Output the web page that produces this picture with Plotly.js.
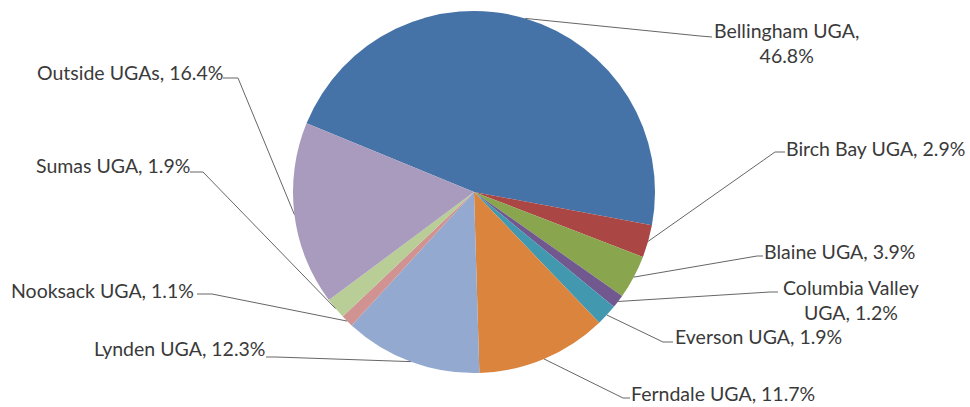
<!DOCTYPE html>
<html><head><meta charset="utf-8">
<script src="https://cdn.plot.ly/plotly-3.0.1.min.js"></script>
<style>html,body{margin:0;padding:0;background:#fff}#chart{width:970px;height:407px}</style>
</head><body><div id="chart"></div>
<script>
// ---- data ----
const categories = ["Bellingham UGA","Birch Bay UGA","Blaine UGA","Columbia Valley UGA","Everson UGA","Ferndale UGA","Lynden UGA","Nooksack UGA","Sumas UGA","Outside UGAs"];
const shares = [46.8, 2.9, 3.9, 1.2, 1.9, 11.7, 12.3, 1.1, 1.9, 16.4];
const colors = ["#4572A7","#AA4643","#89A54E","#71588F","#4198AF","#DB843D","#93A9CF","#D19392","#B9CD96","#A99BBD"];

// ---- layout (pixels) ----
const W = 970, H = 407;
const CX = 474, CY = 192, R = 181, ROT = -67.7;
// label placement: bend point, end point, text anchor
const labelPos = [
  {bend:[700,36], end:[712,37], tx:786, ty:43, xa:"center", brk:[", ", ",<br>"]},
  {bend:[775,152], end:[785,152], tx:785, ty:148, xa:"left"},
  {bend:[757,256], end:[763,256], tx:763, ty:251, xa:"left"},
  {bend:[770,292], end:[778,292], tx:851, ty:300, xa:"center", brk:["Valley ", "Valley<br>"]},
  {bend:[663,342], end:[673,342], tx:674, ty:336, xa:"left"},
  {bend:[623,398], end:[630,398], tx:630, ty:393, xa:"left"},
  {bend:[276,357], end:[266,357], tx:266, ty:348, xa:"right"},
  {bend:[212,294], end:[197,294], tx:195, ty:290, xa:"right"},
  {bend:[203,172], end:[190,172], tx:191, ty:165, xa:"right"},
  {bend:[238,78], end:[223,78], tx:224, ty:72, xa:"right"}
];
const FONT = {family:"Lato, 'Liberation Sans', sans-serif", size:19.5, color:"#3a3a3a"};

const px = x => x / W, py = y => 1 - y / H;

const total = shares.reduce((a,b)=>a+b,0);
let cum = 0;
const shapes = [], annotations = [];
shares.forEach((v,i)=>{
  const midDeg = ROT + (cum + v/2) / total * 360;
  cum += v;
  const a = midDeg * Math.PI/180;
  const ex = CX + R*Math.sin(a), ey = CY - R*Math.cos(a);
  const L = labelPos[i];
  shapes.push({type:"path", xref:"paper", yref:"paper",
    path:`M${px(ex)},${py(ey)} L${px(L.bend[0])},${py(L.bend[1])} L${px(L.end[0])},${py(L.end[1])}`,
    line:{color:"#666666", width:1}});
  let txt = categories[i] + ", " + v.toFixed(1) + "%";
  if (L.brk) txt = txt.replace(L.brk[0], L.brk[1]);
  annotations.push({xref:"paper", yref:"paper", x:px(L.tx), y:py(L.ty), xanchor:L.xa, yanchor:"middle",
    text:txt, showarrow:false, align:"center", font:FONT, borderpad:0});
});

const trace = {
  type:"pie", labels:categories, values:shares, sort:false, direction:"clockwise",
  rotation:ROT, textinfo:"none", hoverinfo:"label+percent",
  marker:{colors:colors, line:{width:0}},
  domain:{x:[(CX-R)/W,(CX+R)/W], y:[1-(CY+R)/H, 1-(CY-R)/H]},
  showlegend:false
};
const layout = {width:W, height:H, margin:{l:0,r:0,t:0,b:0}, paper_bgcolor:"#fff",
  showlegend:false, shapes:shapes, annotations:annotations, font:FONT};
Plotly.newPlot("chart",[trace],layout,{displayModeBar:false, staticPlot:true});
</script></body></html>
